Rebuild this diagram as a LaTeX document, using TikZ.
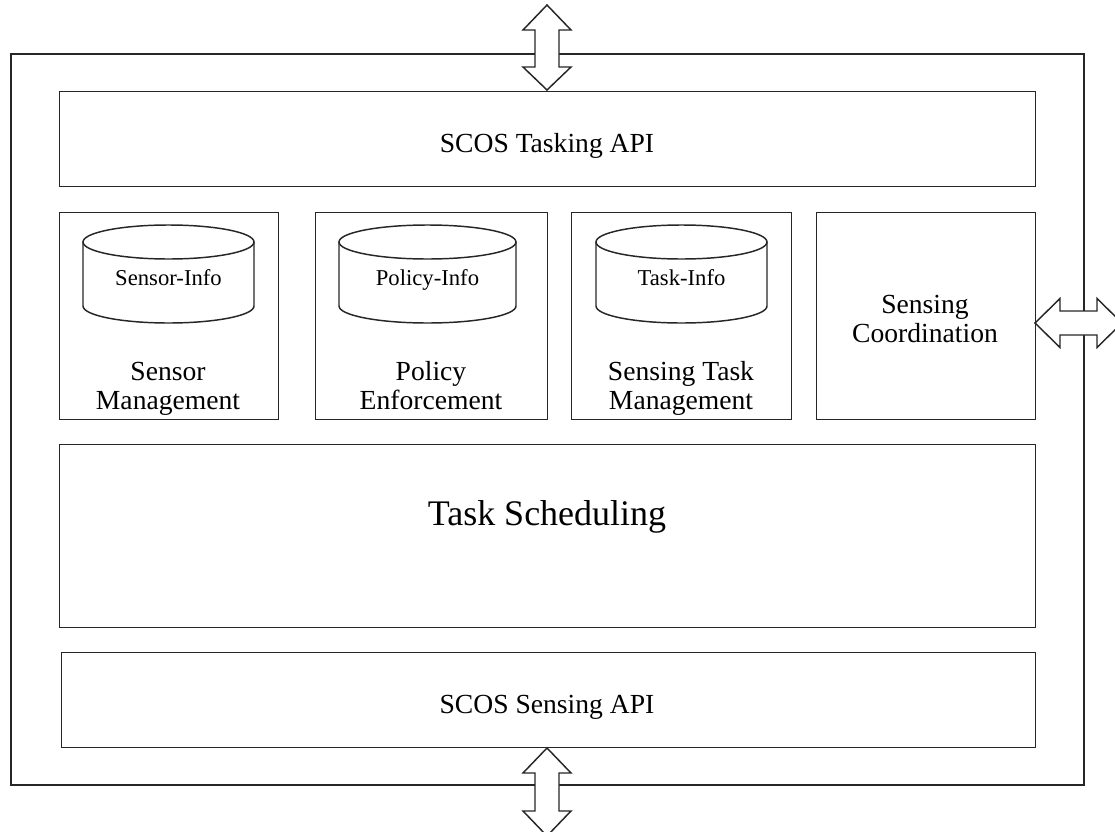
\documentclass[tikz,border=0pt]{standalone}
\usepackage{fontspec}
\setmainfont{Liberation Serif}
\begin{document}
\begin{tikzpicture}[x=0.75pt,y=-0.75pt,
  line/.style={draw=black!85,line width=1.1pt},
  box/.style={line,rectangle,inner sep=0pt,anchor=north west},
  lbl/.style={anchor=base,inner sep=0pt,font=\fontsize{20.7}{23}\selectfont},
  dbtxt/.style={anchor=base,inner sep=0pt,font=\fontsize{17}{19}\selectfont},
  blockarrow/.style={line,fill=white,line join=miter}]
\useasboundingbox (0,0) rectangle (1115,832);
% outer frame
\draw[line] (11,54) rectangle (1084,785);
% boxes
\node[box,minimum width=976*0.75pt,minimum height=95*0.75pt] (tapi) at (59,91) {};
\node[box,minimum width=219*0.75pt,minimum height=207*0.75pt] (sm) at (59,212) {};
\node[box,minimum width=232*0.75pt,minimum height=207*0.75pt] (pe) at (315,212) {};
\node[box,minimum width=220*0.75pt,minimum height=207*0.75pt] (stm) at (571,212) {};
\node[box,minimum width=219*0.75pt,minimum height=207*0.75pt] (sc) at (816,212) {};
\node[box,minimum width=976*0.75pt,minimum height=183*0.75pt] (ts) at (59,444) {};
\node[box,minimum width=974*0.75pt,minimum height=95*0.75pt] (sapi) at (61,652) {};
% texts
\node[lbl] (tapiT) at (547,152) {SCOS Tasking API};
\node[lbl] (smT1) at (168,380) {Sensor};
\node[lbl] (smT2) at (168,409) {Management};
\node[lbl] (peT1) at (431,380) {Policy};
\node[lbl] (peT2) at (431,409) {Enforcement};
\node[lbl] (stmT1) at (681,380) {Sensing Task};
\node[lbl] (stmT2) at (681,409) {Management};
\node[lbl] (scT1) at (925,313) {Sensing};
\node[lbl] (scT2) at (925,342) {Coordination};
\node[anchor=base,inner sep=0pt,font=\fontsize{27}{30}\selectfont] (tsT) at (547,525) {Task Scheduling};
\node[lbl] (sapiT) at (547,713) {SCOS Sensing API};
% cylinders
\foreach \cx/\rx/\nm/\txt in {168.5/85.5/c1/Sensor-Info, 427.5/88.5/c2/Policy-Info, 681.5/85.5/c3/Task-Info}{
  \draw[line] (\cx,242) ellipse [x radius=\rx, y radius=17];
  \draw[line] (\cx-\rx,242) -- (\cx-\rx,306) arc[start angle=180,end angle=0,x radius=\rx,y radius=17] -- (\cx+\rx,242);
  \node[dbtxt] (\nm) at (\cx,285) {\txt};
}
% block arrows
\draw[blockarrow] (547,5) -- (571,30) -- (559,30) -- (559,67) -- (571,67) -- (547,90) -- (523,67) -- (535,67) -- (535,30) -- (523,30) -- cycle;
\draw[blockarrow] (547,748) -- (571,773) -- (559,773) -- (559,811) -- (571,811) -- (547,836) -- (523,811) -- (535,811) -- (535,773) -- (523,773) -- cycle;
\draw[blockarrow] (1035,323) -- (1060,298.5) -- (1060,311) -- (1097,311) -- (1097,298.5) -- (1122,323) -- (1097,347.5) -- (1097,335) -- (1060,335) -- (1060,347.5) -- cycle;
\end{tikzpicture}
\end{document}
